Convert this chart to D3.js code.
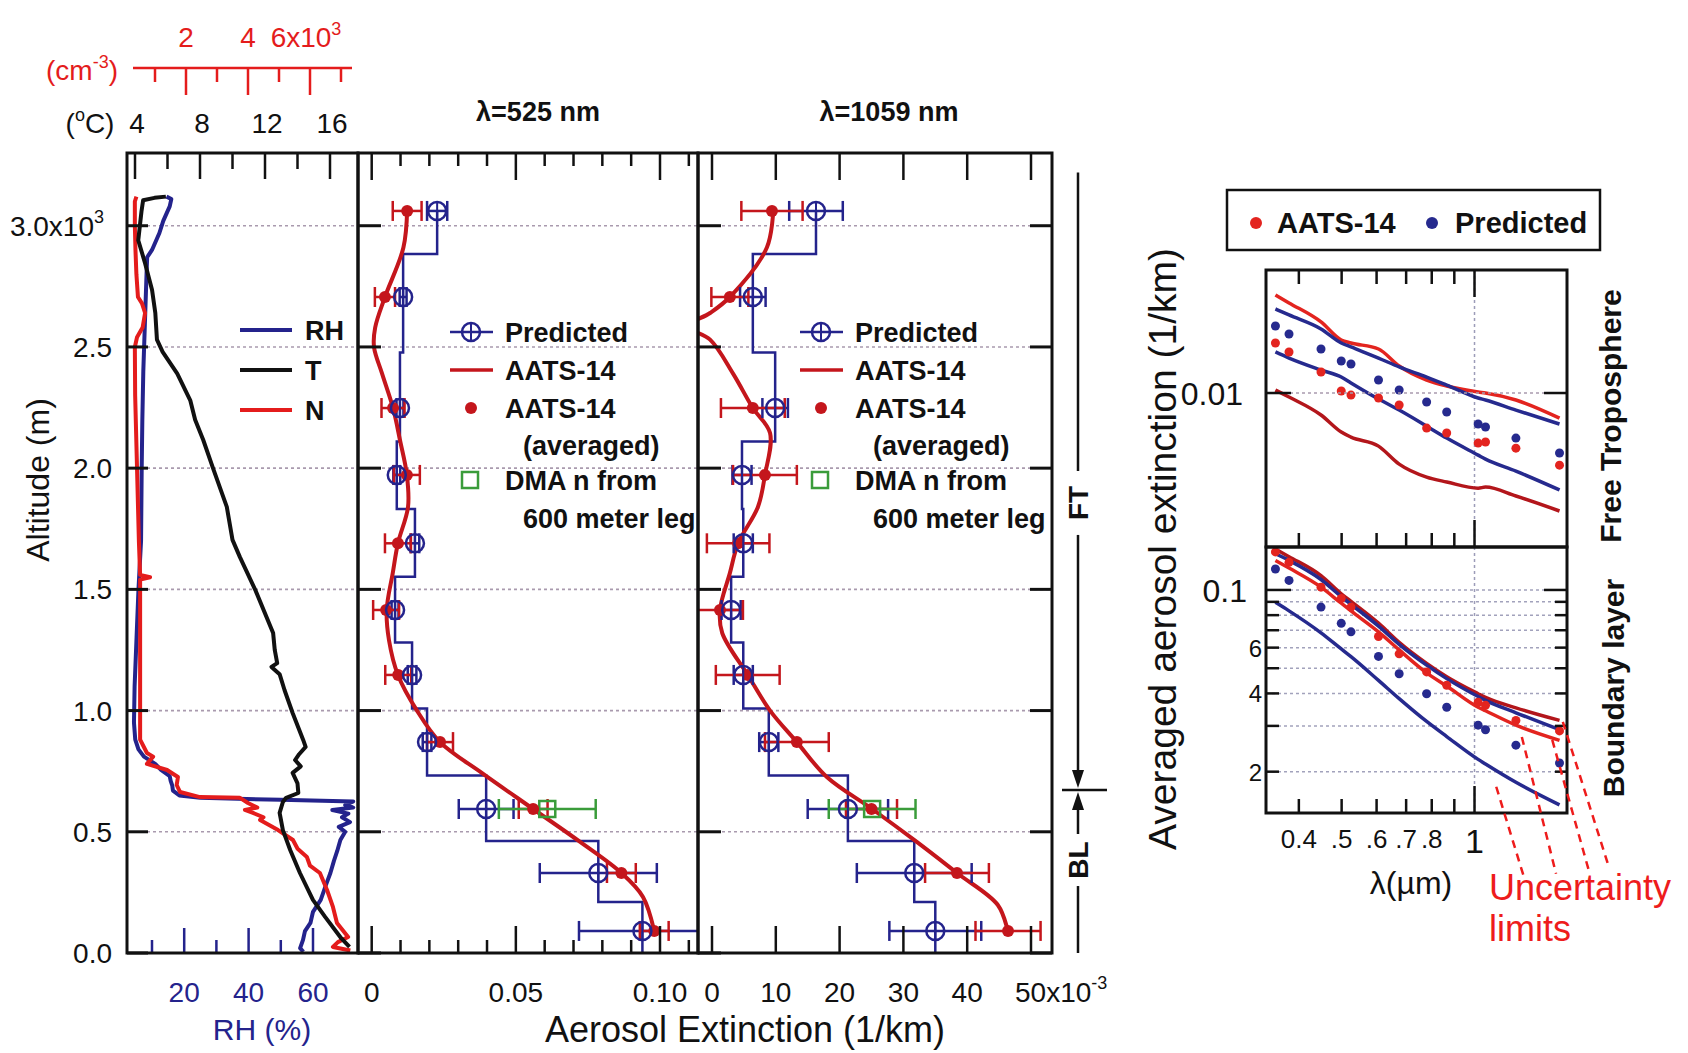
<!DOCTYPE html>
<html>
<head>
<meta charset="utf-8">
<title>Aerosol extinction profiles</title>
<script src="https://cdn.jsdelivr.net/npm/d3@7"></script>
<style>
  body { margin: 0; background: #fff; }
  svg { display: block; font-family: Arial, "Liberation Sans", Helvetica, sans-serif; }
</style>
</head>
<body>
<div id="chart"></div>
<script>
// ---------- left panel: in-situ profiles, [altitude m, value] ----------
const rhProfile = [[3120,14.5],[3110,16.0],[3080,15.5],[3020,13.5],[2970,12.3],[2900,10.0],[2870,8.5],[2800,8.3],
  [2600,7.8],[2400,7.3],[2200,7.0],[2000,6.8],[1700,6.6],[1500,5.8],[1300,5.2],[1100,4.6],[950,4.4],[880,4.8],
  [840,5.8],[810,7.5],[780,11.0],[755,12.8],[730,15.5],[710,15.8],[690,16.3],[670,16.5],[650,18.5],[640,25.0],
  [632,50.0],[625,72.5],[610,70.0],[600,72.5],[590,66.0],[575,71.0],[560,69.0],[540,71.5],[520,68.0],[500,70.0],
  [466,68.5],[420,67.5],[380,66.5],[330,65.4],[280,64.0],[219,62.4],[170,60.0],[124,59.2],[90,57.5],[54,56.9],
  [20,56.0],[5,57.0]];
const tProfile = [[3120,5.9],[3115,5.2],[3105,4.5],[3060,4.4],[3000,4.3],[2940,4.2],[2850,4.6],[2735,5.05],
  [2640,5.25],[2530,5.35],[2480,5.7],[2390,6.6],[2280,7.4],[2200,7.7],[2116,8.2],[2000,8.8],[1840,9.65],
  [1704,10.0],[1634,10.45],[1498,11.4],[1320,12.5],[1250,12.6],[1196,12.75],[1180,12.4],[1150,12.9],
  [1085,13.2],[990,13.7],[879,14.35],[850,14.5],[820,14.1],[796,13.85],[770,14.2],[743,13.7],[700,14.0],
  [660,14.05],[640,13.3],[623,13.1],[578,12.9],[507,13.1],[425,13.55],[330,14.15],[219,14.95],[149,15.7],
  [60,16.7],[25,17.2]];
const nProfile = [[3120,0.4],[3100,0.35],[3000,0.35],[2900,0.37],[2800,0.4],[2706,0.45],[2680,0.58],[2640,0.68],
  [2580,0.6],[2540,0.42],[2500,0.35],[2300,0.36],[2000,0.42],[1700,0.48],[1560,0.52],[1550,0.84],[1540,0.52],
  [1300,0.52],[1040,0.52],[880,0.52],[825,0.74],[810,0.94],[780,0.74],[755,1.39],[726,1.74],[693,1.7],
  [664,1.81],[643,2.45],[640,3.74],[619,4.0],[600,4.3],[590,3.9],[578,4.16],[560,4.5],[549,4.39],[507,4.97],
  [466,5.45],[430,5.6],[396,5.9],[360,6.0],[330,6.32],[260,6.55],[190,6.74],[124,6.87],[66,7.23],[45,6.9],
  [25,6.74],[10,7.3]];

// ---------- extinction profiles ----------
const altLevels = [3061, 2706, 2248, 1972, 1690, 1415, 1147, 870, 594, 330, 91];
const pred525 = [0.0227, 0.0109, 0.0098, 0.0087, 0.0150, 0.0081, 0.0140, 0.0192, 0.0397, 0.0786, 0.0939];
const pred525Err = [0.0035, 0.0012, 0.0012, 0.0012, 0.0015, 0.0012, 0.0015, 0.0015, 0.0095, 0.0203, 0.022];
const aats525 = [0.0123, 0.0046, 0.0074, 0.0122, 0.0091, 0.0050, 0.0092, 0.0237, 0.0560, 0.0866, 0.0980];
const aats525Err = [0.005, 0.0035, 0.004, 0.0045, 0.0045, 0.0045, 0.0045, 0.0045, 0.005, 0.005, 0.005];
const aats525Curve = [[3065,0.0123],[2910,0.0110],[2706,0.0046],[2580,0.0012],[2500,0.0008],[2390,0.0036],
  [2248,0.0074],[2116,0.0098],[1972,0.0122],[1840,0.0126],[1690,0.0091],[1567,0.0073],[1415,0.0052],
  [1290,0.0060],[1147,0.0091],[1000,0.0157],[870,0.0237],[742,0.0383],[594,0.0560],[458,0.0723],
  [330,0.0866],[231,0.0941],[91,0.0980],[75,0.0982]];
// 1059 nm values in units of 1e-3 /km
const pred1059 = [16.3, 6.4, 9.9, 4.7, 4.9, 3.0, 4.9, 8.9, 21.3, 31.7, 35.0];
const pred1059Err = [4.2, 2.0, 2.0, 1.5, 1.5, 1.5, 1.5, 1.5, 6.3, 9.0, 7.2];
const aats1059 = [9.4, 2.8, 6.4, 8.3, 4.1, 1.25, 5.6, 13.3, 25.0, 38.4, 46.4];
const aats1059Err = [4.8, 2.9, 5.0, 5.0, 4.9, 3.6, 5.0, 5.0, 4.0, 5.0, 5.1];
const aats1059Curve = [[3065,9.6],[2910,8.6],[2706,2.8],[2640,-0.3],[2585,-3.8],[2530,-0.3],[2390,3.3],
  [2248,6.4],[2145,9.1],[1972,8.3],[1840,7.2],[1690,4.1],[1567,2.8],[1415,1.25],[1320,1.6],[1147,5.6],
  [1000,9.1],[870,13.3],[726,18.0],[594,25.1],[458,32.1],[330,38.4],[198,44.8],[91,46.4],[75,46.6]];
const dmaAlt = 594;
const dma525 = 0.0609, dma525Err = 0.0168;
const dma1059 = 25.1, dma1059Err = 6.8;

const altTicks = [0, 500, 1000, 1500, 2000, 2500, 3000];
const altTickLabels = ["0.0", "0.5", "1.0", "1.5", "2.0", "2.5", "3.0x10"];
const blTop = 672, ftTop = 3220;

// ---------- spectra (right panel) ----------
const wavelengths = [0.354, 0.380, 0.449, 0.499, 0.525, 0.606, 0.675, 0.779, 0.865, 1.019, 1.059, 1.241, 1.558];
const ftAats = [0.01557, 0.01438, 0.01204, 0.01018, 0.00982, 0.00957, 0.00899, 0.00733, 0.00702, 0.00642, 0.00648, 0.00614, 0.00528];
const ftPred = [0.01810, 0.01686, 0.01476, 0.01328, 0.01293, 0.01122, 0.01027, 0.00924, 0.00845, 0.00760, 0.00740, 0.00671, 0.00588];
const ftAatsHi = [0.02382, 0.02220, 0.01876, 0.01599, 0.01557, 0.01476, 0.01270, 0.01122, 0.01064, 0.01009, 0.01000, 0.00940, 0.00801];
const ftPredHi = [0.02104, 0.01995, 0.01763, 0.01557, 0.01503, 0.01363, 0.01259, 0.01152, 0.01073, 0.00957, 0.00940, 0.00860, 0.00760];
const ftPredLo = [0.01438, 0.01363, 0.01226, 0.01152, 0.01093, 0.00948, 0.00860, 0.00746, 0.00671, 0.00577, 0.00557, 0.00501, 0.00424];
const ftAatsLo = [0.01027, 0.00965, 0.00823, 0.00708, 0.00677, 0.00625, 0.00533, 0.00475, 0.00455, 0.00431, 0.00435, 0.00402, 0.00352];
const blAats = [0.1401, 0.1277, 0.1025, 0.0927, 0.0859, 0.0662, 0.0568, 0.0484, 0.0430, 0.0370, 0.0360, 0.0315, 0.0287];
const blPred = [0.1204, 0.1088, 0.0859, 0.0744, 0.0690, 0.0555, 0.0476, 0.0399, 0.0354, 0.0302, 0.0290, 0.0253, 0.0216];
const blAatsHi = [0.1437, 0.1343, 0.1135, 0.0967, 0.0904, 0.0745, 0.0629, 0.0522, 0.0464, 0.0399, 0.0386, 0.0352, 0.0315];
const blPredHi = [0.1378, 0.1299, 0.1097, 0.0943, 0.0881, 0.0726, 0.0618, 0.0514, 0.0456, 0.0389, 0.0376, 0.0337, 0.0290];
const blAatsLo = [0.1299, 0.1214, 0.1025, 0.0889, 0.0831, 0.0690, 0.0588, 0.0480, 0.0427, 0.0354, 0.0343, 0.0302, 0.0264];
const blPredLo = [0.0896, 0.0831, 0.0684, 0.0593, 0.0554, 0.0449, 0.0382, 0.0312, 0.0273, 0.0223, 0.0214, 0.0182, 0.0149];
const lamTicks = [0.4, 0.5, 0.6, 0.7, 0.8, 0.9, 1];
const lamLabels = [[0.4, "0.4"], [0.5, ".5"], [0.6, ".6"], [0.7, ".7"], [0.8, ".8"], [1, "1"]];
const blGridTicks = [0.02, 0.03, 0.04, 0.05, 0.06, 0.07, 0.08, 0.09, 0.1];
const blTickLabels = [[0.1, "0.1"], [0.06, "6"], [0.04, "4"], [0.02, "2"]];
// leaders from the curves down to the "Uncertainty limits" note: [lambda, extinction]
const leaderFrom = [[1.12, 0.0175], [1.28, 0.0272], [1.50, 0.0265], [1.585, 0.0311]];
const leaderTo = [[1.29, 0.0080], [1.53, 0.0081], [1.82, 0.0082], [2.02, 0.0085]];

// ---------- styling ----------
const blue = "#24238c", black = "#111", red = "#e41c1c", darkRed = "#c4161c", green = "#3a9c3a";
const gridCol = "#a99aae";

const svg = d3.select("#chart").append("svg").attr("width", 1688).attr("height", 1053);
const defs = svg.append("defs");

function clip(id, x0, y0, x1, y1) {
  defs.append("clipPath").attr("id", id).append("rect")
    .attr("x", x0).attr("y", y0).attr("width", x1 - x0).attr("height", y1 - y0);
  return "url(#" + id + ")";
}

function label(x, y, txt, fs, opts) {
  opts = opts || {};
  return svg.append("text").attr("x", x).attr("y", y).text(txt)
    .attr("font-size", fs)
    .attr("font-weight", opts.bold ? "bold" : null)
    .attr("fill", opts.color || black)
    .attr("text-anchor", opts.anchor || "start");
}

function vlabel(x, y, txt, fs, opts) {
  opts = opts || {};
  return svg.append("text").attr("transform", `translate(${x},${y}) rotate(-90)`)
    .attr("text-anchor", "middle").attr("dominant-baseline", "central")
    .attr("font-size", fs).attr("font-weight", opts.bold ? "bold" : null)
    .attr("fill", opts.color || black).text(txt);
}

// ================= altitude panels =================
const top0 = 153, bot0 = 953;
const yAlt = d3.scaleLinear().domain([0, 3300]).range([bot0, top0]);
const p1 = {x0: 127, x1: 358}, p2 = {x0: 358, x1: 698}, p3 = {x0: 698, x1: 1052};

function grid(g, x0, x1) {
  g.append("g").selectAll("line").data(altTicks.filter(a => a > 0)).join("line")
    .attr("x1", x0).attr("x2", x1).attr("y1", d => yAlt(d)).attr("y2", d => yAlt(d))
    .attr("stroke", gridCol).attr("stroke-width", 1.6).attr("stroke-dasharray", "3,3");
}

function altTicksAt(g, x, len) {
  g.append("g").selectAll("line").data(altTicks).join("line")
    .attr("x1", x).attr("x2", x + len).attr("y1", d => yAlt(d)).attr("y2", d => yAlt(d))
    .attr("stroke", black).attr("stroke-width", 3);
}

// ---- panel 1 ----
const xRH = d3.scaleLinear().domain([10, 60]).range([152, 313]);
const xT = d3.scaleLinear().domain([4, 16]).range([135, 330]);
const xN = d3.scaleLinear().domain([1, 7]).range([155, 341]);

const g1 = svg.append("g");
grid(g1, p1.x0 + 20, p1.x1);
const g1in = g1.append("g").attr("clip-path", clip("c1", p1.x0, top0, p1.x1, bot0));
const profLine = xs => d3.line().x(d => xs(d[1])).y(d => yAlt(d[0]));
g1in.append("path").datum(rhProfile).attr("d", profLine(xRH))
  .attr("fill", "none").attr("stroke", blue).attr("stroke-width", 4).attr("stroke-linejoin", "round");
g1in.append("path").datum(nProfile).attr("d", profLine(xN))
  .attr("fill", "none").attr("stroke", red).attr("stroke-width", 4).attr("stroke-linejoin", "round");
g1in.append("path").datum(tProfile).attr("d", profLine(xT))
  .attr("fill", "none").attr("stroke", black).attr("stroke-width", 4).attr("stroke-linejoin", "round");
altTicksAt(g1, p1.x0, 21);

// top T ticks on the frame
g1.append("g").selectAll("line").data(d3.range(4, 17, 2)).join("line")
  .attr("x1", d => xT(d)).attr("x2", d => xT(d)).attr("y1", top0)
  .attr("y2", d => top0 + (d % 4 === 0 ? 26 : 16))
  .attr("stroke", black).attr("stroke-width", 2.5);
// bottom RH ticks
g1.append("g").selectAll("line").data(d3.range(10, 61, 10)).join("line")
  .attr("x1", d => xRH(d)).attr("x2", d => xRH(d)).attr("y1", bot0)
  .attr("y2", d => bot0 - (d % 20 === 0 ? 25 : 13))
  .attr("stroke", blue).attr("stroke-width", 2.5);
[20, 40, 60].forEach(v => label(xRH(v), 1002, v, 28, {anchor: "middle", color: blue}));
label(262, 1040, "RH (%)", 30, {anchor: "middle", color: blue});

// T axis labels above frame
[4, 8, 12, 16].forEach(v => label(xT(v) + 2, 133, v, 28, {anchor: "middle"}));
const degLab = label(90, 133, "(", 28, {anchor: "middle"});
degLab.append("tspan").attr("dy", -12).attr("font-size", 18).text("o");
degLab.append("tspan").attr("dy", 12).text("C)");

// N axis (red) above
const nAxisY = 68;
svg.append("line").attr("x1", 133).attr("x2", 352).attr("y1", nAxisY).attr("y2", nAxisY)
  .attr("stroke", red).attr("stroke-width", 2.5);
svg.append("g").selectAll("line").data(d3.range(1, 8)).join("line")
  .attr("x1", d => xN(d)).attr("x2", d => xN(d)).attr("y1", nAxisY)
  .attr("y2", d => nAxisY + (d % 2 === 0 ? 27 : 14))
  .attr("stroke", red).attr("stroke-width", 2.5);
label(xN(2), 47, "2", 28, {anchor: "middle", color: red});
label(xN(4), 47, "4", 28, {anchor: "middle", color: red});
const n6 = label(xN(6) - 4, 47, "6x10", 28, {anchor: "middle", color: red});
n6.append("tspan").attr("dy", -12).attr("font-size", 18).text("3");
const cmLab = label(82, 80, "(cm", 28, {anchor: "middle", color: red});
cmLab.append("tspan").attr("dy", -12).attr("font-size", 18).text("-3");
cmLab.append("tspan").attr("dy", 12).text(")");

// panel 1 legend
[[rhProfile, "RH", blue, 330], [tProfile, "T", black, 370], [nProfile, "N", red, 410]].forEach(r => {
  svg.append("line").attr("x1", 240).attr("x2", 292).attr("y1", r[3]).attr("y2", r[3])
    .attr("stroke", r[2]).attr("stroke-width", 4);
  label(305, r[3] + 10, r[1], 27, {bold: true});
});

// altitude tick labels
altTicks.forEach((a, i) => {
  const t = label(i === 6 ? 104 : 112, yAlt(a) + 10, altTickLabels[i], 28, {anchor: "end"});
  if (i === 6) t.append("tspan").attr("dy", -13).attr("font-size", 18).text("3");
});
vlabel(38, 480, "Altitude (m)", 32);

// ---- panels 2 & 3 ----
function stepPoints(values) {
  const pts = [];
  altLevels.forEach((a, i) => {
    const up = i === 0 ? a : (altLevels[i - 1] + a) / 2;
    const dn = i === altLevels.length - 1 ? 0 : (a + altLevels[i + 1]) / 2;
    pts.push([up, values[i]], [dn, values[i]]);
  });
  return pts;
}

function errBars(g, alts, vals, errs, xs, color, w) {
  const rows = alts.map((a, i) => ({y: yAlt(a), l: xs(vals[i] - errs[i]), r: xs(vals[i] + errs[i])}));
  const eg = g.append("g").attr("stroke", color).attr("stroke-width", w);
  eg.selectAll("line.bar").data(rows).join("line").attr("class", "bar")
    .attr("x1", d => d.l).attr("x2", d => d.r).attr("y1", d => d.y).attr("y2", d => d.y);
  eg.selectAll("line.capl").data(rows).join("line").attr("class", "capl")
    .attr("x1", d => d.l).attr("x2", d => d.l).attr("y1", d => d.y - 10).attr("y2", d => d.y + 10);
  eg.selectAll("line.capr").data(rows).join("line").attr("class", "capr")
    .attr("x1", d => d.r).attr("x2", d => d.r).attr("y1", d => d.y - 10).attr("y2", d => d.y + 10);
}

function predMarker(g, x, y) {
  g.append("circle").attr("cx", x).attr("cy", y).attr("r", 9)
    .attr("fill", "none").attr("stroke", blue).attr("stroke-width", 2.5);
  g.append("line").attr("x1", x).attr("x2", x).attr("y1", y - 9).attr("y2", y + 9)
    .attr("stroke", blue).attr("stroke-width", 2);
}

function extPanel(o) {
  const g = svg.append("g");
  grid(g, o.p.x0, o.p.x1);
  const inner = g.append("g").attr("clip-path", clip(o.id, o.p.x0, top0, o.p.x1, bot0));
  const line = d3.line().x(d => o.x(d[1])).y(d => yAlt(d[0]));
  inner.append("path").datum(stepPoints(o.pred)).attr("d", line)
    .attr("fill", "none").attr("stroke", blue).attr("stroke-width", 2.5);
  inner.append("path").datum(o.curve).attr("d", line.curve(d3.curveCatmullRom))
    .attr("fill", "none").attr("stroke", darkRed).attr("stroke-width", 4);
  errBars(inner, altLevels, o.pred, o.predErr, o.x, blue, 2.5);
  errBars(inner, altLevels, o.aats, o.aatsErr, o.x, darkRed, 2.5);
  errBars(inner, [dmaAlt], [o.dma], [o.dmaErr], o.x, green, 2.5);
  inner.append("rect").attr("x", o.x(o.dma) - 8).attr("y", yAlt(dmaAlt) - 8)
    .attr("width", 16).attr("height", 16).attr("fill", "none").attr("stroke", green).attr("stroke-width", 2.5);
  inner.append("g").selectAll("circle").data(altLevels).join("circle")
    .attr("cx", (d, i) => o.x(o.aats[i])).attr("cy", d => yAlt(d)).attr("r", 6).attr("fill", darkRed);
  altLevels.forEach((a, i) => predMarker(inner, o.x(o.pred[i]), yAlt(a)));

  // frame ticks
  g.append("g").selectAll("line").data(o.ticks).join("line")
    .attr("x1", d => o.x(d)).attr("x2", d => o.x(d)).attr("y1", top0)
    .attr("y2", d => top0 + (o.isMajor(d) ? 27 : 13)).attr("stroke", black).attr("stroke-width", 2.5);
  g.append("g").selectAll("line").data(o.ticks).join("line")
    .attr("x1", d => o.x(d)).attr("x2", d => o.x(d)).attr("y1", bot0)
    .attr("y2", d => bot0 - (o.isMajor(d) ? 27 : 13)).attr("stroke", black).attr("stroke-width", 2.5);
  altTicksAt(g, o.p.x0, 23);
  if (o.rightTicks) altTicksAt(g, o.p.x1, -22);

  // title
  label((o.p.x0 + o.p.x1) / 2 + o.titleDx, 121, o.title, 27, {bold: true, anchor: "middle"});

  // legend
  const lx = o.legX, tx = lx + 55;
  g.append("line").attr("x1", lx).attr("x2", lx + 43).attr("y1", 332).attr("y2", 332)
    .attr("stroke", blue).attr("stroke-width", 2.5);
  predMarker(g, lx + 21, 332);
  g.append("line").attr("x1", lx).attr("x2", lx + 43).attr("y1", 370).attr("y2", 370)
    .attr("stroke", darkRed).attr("stroke-width", 3.5);
  g.append("circle").attr("cx", lx + 21).attr("cy", 408).attr("r", 6).attr("fill", darkRed);
  g.append("rect").attr("x", lx + 12).attr("y", 472).attr("width", 16).attr("height", 16)
    .attr("fill", "none").attr("stroke", green).attr("stroke-width", 2.5);
  label(tx, 342, "Predicted", 27, {bold: true});
  label(tx, 380, "AATS-14", 27, {bold: true});
  label(tx, 418, "AATS-14", 27, {bold: true});
  label(tx + 18, 455, "(averaged)", 27, {bold: true});
  label(tx, 490, "DMA n from", 27, {bold: true});
  label(tx + 18, 528, "600 meter leg", 27, {bold: true});
}

const x525 = d3.scaleLinear().domain([0, 0.10]).range([371.7, 660]);
const x1059 = d3.scaleLinear().domain([0, 50]).range([712, 1031]);

extPanel({id: "c2", p: p2, x: x525, pred: pred525, predErr: pred525Err, aats: aats525, aatsErr: aats525Err,
  curve: aats525Curve, dma: dma525, dmaErr: dma525Err, title: "λ=525 nm", titleDx: 10, legX: 450,
  ticks: d3.range(0, 12).map(i => i / 100), isMajor: d => Math.round(d * 100) % 5 === 0, rightTicks: false});
extPanel({id: "c3", p: p3, x: x1059, pred: pred1059, predErr: pred1059Err, aats: aats1059, aatsErr: aats1059Err,
  curve: aats1059Curve, dma: dma1059, dmaErr: dma1059Err, title: "λ=1059 nm", titleDx: 14, legX: 800,
  ticks: d3.range(0, 51, 10), isMajor: () => true, rightTicks: true});

// extinction tick labels
label(x525(0), 1002, "0", 28, {anchor: "middle"});
label(x525(0.05), 1002, "0.05", 28, {anchor: "middle"});
label(x525(0.10), 1002, "0.10", 28, {anchor: "middle"});
[0, 10, 20, 30, 40].forEach(v => label(x1059(v), 1002, v, 28, {anchor: "middle"}));
const l50 = label(x1059(50) - 16, 1002, "50x10", 28);
l50.append("tspan").attr("dy", -13).attr("font-size", 18).text("-3");
label(745, 1042, "Aerosol Extinction (1/km)", 36, {anchor: "middle"});

// frames
[p1, p2, p3].forEach(p => svg.append("rect").attr("x", p.x0).attr("y", top0)
  .attr("width", p.x1 - p.x0).attr("height", bot0 - top0)
  .attr("fill", "none").attr("stroke", black).attr("stroke-width", 3));

// FT / BL marker
const mx = 1078;
const ftLabelAlt = 1840, blLabelAlt = 400;
const seg = (ya, yb) => svg.append("line").attr("x1", mx).attr("x2", mx).attr("y1", ya).attr("y2", yb)
  .attr("stroke", black).attr("stroke-width", 2.5);
seg(yAlt(ftTop), yAlt(ftLabelAlt) - 36);
seg(yAlt(ftLabelAlt) + 28, yAlt(blTop) - 18);
seg(yAlt(blTop) + 18, yAlt(blLabelAlt) - 22);
seg(yAlt(blLabelAlt) + 30, yAlt(0));
svg.append("line").attr("x1", mx - 16).attr("x2", mx + 29).attr("y1", yAlt(blTop)).attr("y2", yAlt(blTop))
  .attr("stroke", black).attr("stroke-width", 2.5);
const yb = yAlt(blTop);
svg.append("path").attr("d", `M${mx - 6},${yb - 20} L${mx + 6},${yb - 20} L${mx},${yb - 2} Z`).attr("fill", black);
svg.append("path").attr("d", `M${mx - 6},${yb + 20} L${mx + 6},${yb + 20} L${mx},${yb + 2} Z`).attr("fill", black);
vlabel(mx, yAlt(ftLabelAlt) - 4, "FT", 28, {bold: true});
vlabel(mx, yAlt(blLabelAlt) + 4, "BL", 28, {bold: true});

// ================= spectral panel =================
const xLam = d3.scaleLog().domain([0.337, 1.62]).range([1266, 1567]);
const yFT = d3.scaleLog().domain([0.00256, 0.0297]).range([547, 270]);
const yBL = d3.scaleLog().domain([0.01387, 0.1463]).range([813, 547]);
const brightRed = "#e3241f", deepRed = "#b3161b", navy = "#262a8e";

function specPanel(id, ys, y0, y1, series, dots) {
  const g = svg.append("g");
  const inner = g.append("g").attr("clip-path", clip(id, 1266, y0, 1567, y1));
  inner.append("line").attr("x1", xLam(1)).attr("x2", xLam(1)).attr("y1", y0).attr("y2", y1)
    .attr("stroke", "#9c9cb8").attr("stroke-width", 1.5).attr("stroke-dasharray", "3,3");
  const line = d3.line().x((d, i) => xLam(wavelengths[i])).y(d => ys(d)).curve(d3.curveMonotoneX);
  series.forEach(s => inner.append("path").datum(s[0]).attr("d", line)
    .attr("fill", "none").attr("stroke", s[1]).attr("stroke-width", 3.5));
  dots.forEach(s => inner.append("g").selectAll("circle").data(s[0]).join("circle")
    .attr("cx", (d, i) => xLam(wavelengths[i])).attr("cy", d => ys(d)).attr("r", 4.5).attr("fill", s[1]));
  return g;
}

// upper: free troposphere
const gFT = specPanel("cft", yFT, 270, 547,
  [[ftAatsHi, brightRed], [ftPredHi, navy], [ftPredLo, navy], [ftAatsLo, deepRed]],
  [[ftAats, brightRed], [ftPred, navy]]);
gFT.append("line").attr("x1", 1266).attr("x2", 1567).attr("y1", yFT(0.01)).attr("y2", yFT(0.01))
  .attr("stroke", gridCol).attr("stroke-width", 1.5).attr("stroke-dasharray", "3,3");

// lower: boundary layer
const gBL = svg.append("g");
gBL.append("g").selectAll("line").data(blGridTicks).join("line")
  .attr("x1", 1266).attr("x2", 1567).attr("y1", d => yBL(d)).attr("y2", d => yBL(d))
  .attr("stroke", "#a2a2bc").attr("stroke-width", 1.5).attr("stroke-dasharray", "3,3");
specPanel("cbl", yBL, 547, 813,
  [[blAatsHi, deepRed], [blPredHi, navy], [blAatsLo, brightRed], [blPredLo, navy]],
  [[blAats, brightRed], [blPred, navy]]);

// ticks
const tickG = svg.append("g").attr("stroke", black).attr("stroke-width", 2.5);
const lamTick = (y, dir) => tickG.append("g").selectAll("line").data(lamTicks).join("line")
  .attr("x1", d => xLam(d)).attr("x2", d => xLam(d)).attr("y1", y)
  .attr("y2", d => y + dir * (d === 1 ? 27 : 14));
lamTick(270, 1); lamTick(547, -1); lamTick(813, -1);
tickG.append("line").attr("x1", 1266).attr("x2", 1291).attr("y1", yFT(0.01)).attr("y2", yFT(0.01));
tickG.append("line").attr("x1", 1567).attr("x2", 1544).attr("y1", yFT(0.01)).attr("y2", yFT(0.01));
tickG.append("g").selectAll("line").data(blGridTicks).join("line")
  .attr("x1", 1266).attr("x2", d => d === 0.1 ? 1291 : 1279).attr("y1", d => yBL(d)).attr("y2", d => yBL(d));
tickG.append("g").selectAll("line").data(blGridTicks).join("line")
  .attr("x1", 1567).attr("x2", d => d === 0.1 ? 1544 : 1555).attr("y1", d => yBL(d)).attr("y2", d => yBL(d));

// frames
svg.append("rect").attr("x", 1266).attr("y", 270).attr("width", 301).attr("height", 277)
  .attr("fill", "none").attr("stroke", black).attr("stroke-width", 3);
svg.append("rect").attr("x", 1266).attr("y", 547).attr("width", 301).attr("height", 266)
  .attr("fill", "none").attr("stroke", black).attr("stroke-width", 3);

// tick labels
label(1243, yFT(0.01) + 12, "0.01", 32, {anchor: "end"});
blTickLabels.forEach(t => label(t[0] === 0.1 ? 1247 : 1262, yBL(t[0]) + (t[0] === 0.1 ? 12 : 9),
  t[1], t[0] === 0.1 ? 32 : 24, {anchor: "end"}));
lamLabels.forEach(t => label(xLam(t[0]), t[1] === "1" ? 853 : 848, t[1], t[1] === "1" ? 34 : 26, {anchor: "middle"}));
label(1411, 894, "λ(µm)", 32, {anchor: "middle"});
vlabel(1162, 549, "Averaged aerosol extinction (1/km)", 39);
vlabel(1610, 416, "Free Troposphere", 30, {bold: true});
vlabel(1613, 688, "Boundary layer", 30, {bold: true});

// legend box
svg.append("rect").attr("x", 1227).attr("y", 190).attr("width", 373).attr("height", 60)
  .attr("fill", "none").attr("stroke", black).attr("stroke-width", 2.5);
svg.append("circle").attr("cx", 1256).attr("cy", 223).attr("r", 6).attr("fill", brightRed);
label(1277, 233, "AATS-14", 29, {bold: true});
svg.append("circle").attr("cx", 1432).attr("cy", 223).attr("r", 6).attr("fill", navy);
label(1455, 233, "Predicted", 29, {bold: true});

// uncertainty note
svg.append("g").selectAll("line").data(leaderFrom).join("line")
  .attr("x1", d => xLam(d[0])).attr("y1", d => yBL(d[1]))
  .attr("x2", (d, i) => xLam(leaderTo[i][0])).attr("y2", (d, i) => yBL(leaderTo[i][1]))
  .attr("stroke", "#ee1c1c").attr("stroke-width", 2.5).attr("stroke-dasharray", "8,6");
label(1489, 900, "Uncertainty", 36, {color: "#ee1c1c"});
label(1489, 941, "limits", 36, {color: "#ee1c1c"});
</script>
</body>
</html>
